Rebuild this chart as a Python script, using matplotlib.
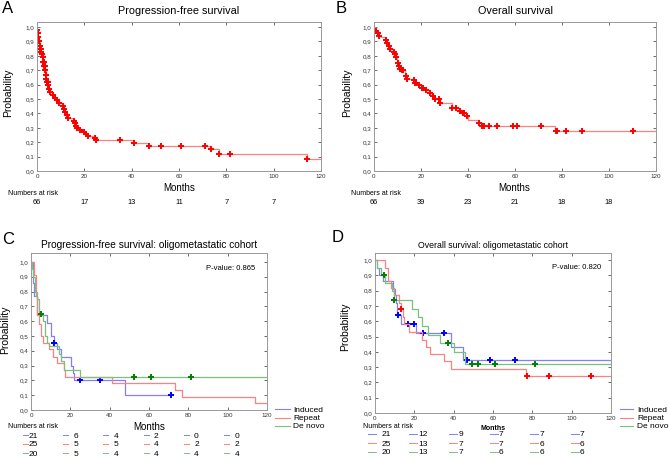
import numpy as np
import matplotlib
matplotlib.use("Agg")
import matplotlib.pyplot as plt
from matplotlib.lines import Line2D
from matplotlib import transforms

plt.rcParams['font.family'] = ['Liberation Sans', 'DejaVu Sans']

# ---- data ----
# A: progression-free survival, whole cohort
pfs_t = [0, 0.2, 0.4, 0.6, 0.8, 1.1, 1.4, 1.7, 2.0, 2.4, 2.7, 3.0, 3.3, 3.6, 3.9, 4.3, 4.8,
         5.2, 5.6, 6.8, 7.5, 8.3, 9.5, 11, 11.5, 12, 12.7, 13.2, 15.5, 16, 16.5, 17, 18,
         20, 20.5, 21.5, 24.5, 25, 41, 47.5, 73.5, 77, 114]
pfs_s = [1.0, 0.98, 0.96, 0.93, 0.90, 0.87, 0.85, 0.83, 0.81, 0.79, 0.76, 0.73, 0.70, 0.67,
         0.64, 0.62, 0.60, 0.57, 0.55, 0.53, 0.51, 0.49, 0.47, 0.45, 0.43, 0.41, 0.39, 0.37,
         0.35, 0.33, 0.31, 0.30, 0.285, 0.27, 0.255, 0.24, 0.23, 0.215, 0.195, 0.175, 0.15,
         0.12, 0.08]
pfs_cens = [0.2, 0.4, 0.6, 0.8, 1.0, 1.1, 1.3, 1.4, 1.6, 1.7, 1.9, 2.0, 2.2, 2.4, 2.6, 2.7,
            2.9, 3.0, 3.2, 3.3, 3.5, 3.6, 3.8, 3.9, 4.3, 4.6, 4.8, 5.2, 5.6, 6.8, 7.5, 8.3,
            9.5, 11, 11.5, 12, 12.7, 13.2, 15.5, 16, 16.5, 17, 18, 20, 20.5, 21.5, 24.5, 25,
            35, 41, 47.5, 52.5, 61, 71, 73.5, 77, 81.5, 114]
pfs_risk = [66, 17, 13, 11, 7, 7]

# B: overall survival, whole cohort
os_t = [0, 0.5, 1, 1.5, 2, 3, 4.5, 5.5, 6, 7, 8, 8.7, 9.2, 9.6, 10, 10.5, 11, 12, 13,
        13.5, 14, 16.5, 17.5, 19, 20.5, 22, 24, 25, 26, 28, 33, 36, 38, 39, 40, 44.5, 46, 77]
os_s = [1.0, 0.98, 0.97, 0.96, 0.94, 0.93, 0.91, 0.89, 0.87, 0.85, 0.83, 0.81, 0.79, 0.77,
        0.75, 0.73, 0.71, 0.70, 0.68, 0.66, 0.64, 0.63, 0.61, 0.60, 0.58, 0.56, 0.54, 0.52,
        0.50, 0.47, 0.44, 0.42, 0.40, 0.38, 0.355, 0.335, 0.315, 0.28]
os_cens = [1, 1.5, 2, 5, 5.5, 6.5, 7, 8.5, 9, 9.5, 10, 10.5, 11, 11.5, 12, 12.5, 13.5, 14,
           17, 17.5, 18, 19, 20.5, 21, 22, 24, 25, 26, 27.5, 28, 33, 35, 36.5, 38, 38.5, 39.5,
           44.5, 46, 47, 49, 52.5, 59, 61, 71, 77.5, 78, 81.5, 88.5, 110]
os_risk = [66, 39, 23, 21, 18, 18]

groups = ['Induced', 'Repeat', 'De novo']

# C: PFS oligometastatic cohort
c_ind_t = [0, 1, 1.5, 3, 8, 10, 11.5, 13, 15, 20.5, 21.5, 22, 48]
c_ind_s = [1.0, 0.86, 0.77, 0.64, 0.59, 0.50, 0.45, 0.41, 0.36, 0.30, 0.25, 0.20, 0.10]
c_ind_cens = [11.5, 25, 35, 71]
c_ind_end = 71
c_rep_t = [0, 1.5, 2.5, 3.2, 4, 5, 6, 9, 11, 13, 17, 17.5, 41, 73, 77, 114]
c_rep_s = [1.0, 0.91, 0.77, 0.64, 0.58, 0.50, 0.45, 0.41, 0.36, 0.32, 0.27, 0.225, 0.18,
           0.135, 0.09, 0.045]
c_rep_cens = []
c_rep_end = 120
c_dn_t = [0, 0.5, 1, 2, 3, 4, 6, 7, 8, 9, 14, 15, 17, 25]
c_dn_s = [1.0, 0.95, 0.90, 0.80, 0.75, 0.65, 0.60, 0.50, 0.45, 0.43, 0.38, 0.33, 0.27, 0.22]
c_dn_cens = [5, 52.5, 61, 81.5]
c_dn_end = 120
c_risk = [[21, 6, 4, 2, 0, 0], [25, 5, 5, 4, 2, 2], [20, 5, 4, 4, 4, 4]]
c_pval = 'P-value: 0.865'

# D: OS oligometastatic cohort
d_ind_t = [0, 1, 2, 4, 9, 10, 10.5, 11, 13, 21, 38.5, 45]
d_ind_s = [1.0, 0.95, 0.90, 0.86, 0.81, 0.77, 0.72, 0.64, 0.58, 0.52, 0.43, 0.345]
d_ind_cens = [11.5, 17, 20, 24.5, 35, 47, 58.5, 71]
d_rep_t = [0, 5, 6.5, 8, 9.5, 12, 13, 14, 15, 17.5, 24, 26, 28, 35, 38.5, 77]
d_rep_s = [1.0, 0.95, 0.86, 0.82, 0.77, 0.72, 0.68, 0.63, 0.58, 0.53, 0.48, 0.43, 0.385,
           0.34, 0.29, 0.24]
d_rep_cens = [13, 77.5, 88.5, 110]
d_dn_t = [0, 1, 3, 5, 8.5, 9.5, 19, 22, 24, 27, 33, 40, 46]
d_dn_s = [1.0, 0.95, 0.90, 0.85, 0.80, 0.74, 0.68, 0.63, 0.57, 0.51, 0.46, 0.40, 0.32]
d_dn_cens = [4.5, 9.5, 37, 49.5, 52.5, 61, 81.5]
d_risk = [[21, 12, 9, 7, 7, 7], [25, 13, 7, 7, 6, 6], [20, 13, 7, 6, 6, 6]]
d_pval = 'P-value: 0.820'

yticks = np.round(np.arange(0, 1.01, 0.1), 1)
xticks = [0, 20, 40, 60, 80, 100, 120]
risk_x = [0, 20, 40, 60, 80, 100]

# ---- style ----
W, H = 669, 457
fig = plt.figure(figsize=(W / 100, H / 100), dpi=100)

line_cols = ['#8080ff', '#ff8080', '#7cc07c']
mark_cols = ['#0000ff', '#ff0000', '#008000']


def rect(x0, x1, y0, y1):
    return [x0 / W, 1 - y1 / H, (x1 - x0) / W, (y1 - y0) / H]


def ftext(x, y, s, **kw):
    fig.text(x / W, 1 - y / H, s, **kw)


def step_at(t, s, c):
    i = np.searchsorted(t, c, side='right') - 1
    return np.array(s)[i]


def km(ax, t, s, cens, lc, mc, end=120, ms=5):
    tt = list(t) + [end]
    ss = list(s) + [s[-1]]
    ax.step(tt, ss, where='post', color=lc, lw=0.9)
    if len(cens):
        ax.plot(cens, step_at(t, s, cens), '+', color=mc, ms=ms, mew=1.4)


def style(ax, ytop, fs=4.5):
    ax.set_xlim(0, 120)
    ax.set_ylim(0, ytop)
    ax.set_xticks(xticks)
    ax.set_yticks(yticks)
    ax.set_yticklabels([('%.1f' % v).replace('.', ',') for v in yticks])
    ax.tick_params(direction='in', length=2, width=0.5, labelsize=fs, colors='#333333',
                   top=True, right=True, pad=2)
    for sp in ax.spines.values():
        sp.set_color('#999999')
        sp.set_linewidth(0.7)


# ---- panel A ----
axA = fig.add_axes(rect(37, 321, 22, 171))
km(axA, pfs_t, pfs_s, pfs_cens, '#ff8080', '#ff0000')
style(axA, 1.035)
ftext(2, 1, 'A', fontsize=12, va='top')
ftext(179, 11, 'Progression-free survival', fontsize=7.8, ha='center', va='center')
ftext(8, 93, 'Probability', fontsize=7.5, rotation=90, ha='center', va='center')
ftext(179, 188, 'Months', fontsize=7, ha='center', va='center')
ftext(8, 193, 'Numbers at risk', fontsize=5, va='center')
trA = transforms.blended_transform_factory(axA.transData, fig.transFigure)
for x, n in zip(risk_x, pfs_risk):
    axA.text(x, 1 - 202 / H, str(n), transform=trA, fontsize=5.3, ha='center', va='center')

# ---- panel B ----
axB = fig.add_axes(rect(374, 656, 22, 171))
km(axB, os_t, os_s, os_cens, '#ff8080', '#ff0000')
style(axB, 1.035)
ftext(336, 1, 'B', fontsize=12, va='top')
ftext(515, 11, 'Overall survival', fontsize=7.8, ha='center', va='center')
ftext(347, 93, 'Probability', fontsize=7.5, rotation=90, ha='center', va='center')
ftext(514, 188, 'Months', fontsize=7, ha='center', va='center')
ftext(351, 193, 'Numbers at risk', fontsize=5, va='center')
trB = transforms.blended_transform_factory(axB.transData, fig.transFigure)
for x, n in zip(risk_x, os_risk):
    axB.text(x, 1 - 202 / H, str(n), transform=trB, fontsize=5.3, ha='center', va='center')

# ---- panel C ----
axC = fig.add_axes(rect(31, 267, 253, 410))
km(axC, c_ind_t, c_ind_s, c_ind_cens, line_cols[0], mark_cols[0], end=c_ind_end, ms=4)
km(axC, c_rep_t, c_rep_s, c_rep_cens, line_cols[1], mark_cols[1], end=c_rep_end, ms=4)
km(axC, c_dn_t, c_dn_s, c_dn_cens, line_cols[2], mark_cols[2], end=c_dn_end, ms=4)
style(axC, 1.06)
axC.text(0.95, 0.9, c_pval, transform=axC.transAxes, fontsize=5.5, ha='right', va='center')
ftext(2, 232, 'C', fontsize=12, va='top')
ftext(149, 245, 'Progression-free survival: oligometastatic cohort', fontsize=7.3,
      ha='center', va='center')
ftext(5, 330, 'Probability', fontsize=7.5, rotation=90, ha='center', va='center')
ftext(149, 427, 'Months', fontsize=7, ha='center', va='center')
ftext(8, 427, 'Numbers at risk', fontsize=5, va='center')
for k, g in enumerate(groups):
    y = 409 + 8.5 * k
    fig.add_artist(Line2D([275 / W, 290 / W], [1 - y / H] * 2, color=line_cols[k], lw=0.8))
    ftext(293, y, g, fontsize=6, va='center_baseline')
for r, row in enumerate(c_risk):
    y = 435 + 9 * r
    for c, n in enumerate(row):
        x0 = 23 + 40.2 * c
        fig.add_artist(Line2D([x0 / W, (x0 + 5) / W], [1 - y / H] * 2,
                              color=line_cols[r], lw=0.7))
        ftext(x0 + 15, y, str(n), fontsize=6, ha='right', va='center_baseline')

# ---- panel D ----
axD = fig.add_axes(rect(375, 611, 253, 413))
km(axD, d_ind_t, d_ind_s, d_ind_cens, line_cols[0], mark_cols[0], ms=4)
km(axD, d_rep_t, d_rep_s, d_rep_cens, line_cols[1], mark_cols[1], ms=4)
km(axD, d_dn_t, d_dn_s, d_dn_cens, line_cols[2], mark_cols[2], ms=4)
style(axD, 1.046)
axD.text(0.96, 0.91, d_pval, transform=axD.transAxes, fontsize=5.5, ha='right', va='center')
ftext(332, 230, 'D', fontsize=12, va='top')
ftext(493, 245, 'Overall survival: oligometastatic cohort', fontsize=6.3,
      ha='center', va='center')
ftext(345, 327, 'Probability', fontsize=7.5, rotation=90, ha='center', va='center')
ftext(493, 428, 'Months', fontsize=5, ha='center', va='center', fontweight='bold')
ftext(363, 427, 'Numbers at risk', fontsize=5, va='center')
for k, g in enumerate(groups):
    y = 409 + 8.5 * k
    fig.add_artist(Line2D([620 / W, 633 / W], [1 - y / H] * 2, color=line_cols[k], lw=0.8))
    ftext(637, y, g, fontsize=6, va='center_baseline')
for r, row in enumerate(d_risk):
    y = 434 + 9 * r
    for c, n in enumerate(row):
        x0 = 368 + 40.5 * c
        fig.add_artist(Line2D([x0 / W, (x0 + 8) / W], [1 - y / H] * 2,
                              color=line_cols[r], lw=0.7))
        ftext(x0 + 9.5 + (4 if c == 0 else 0), y, str(n), fontsize=6,
              va='center_baseline')

fig.savefig('out.png', dpi=100)
